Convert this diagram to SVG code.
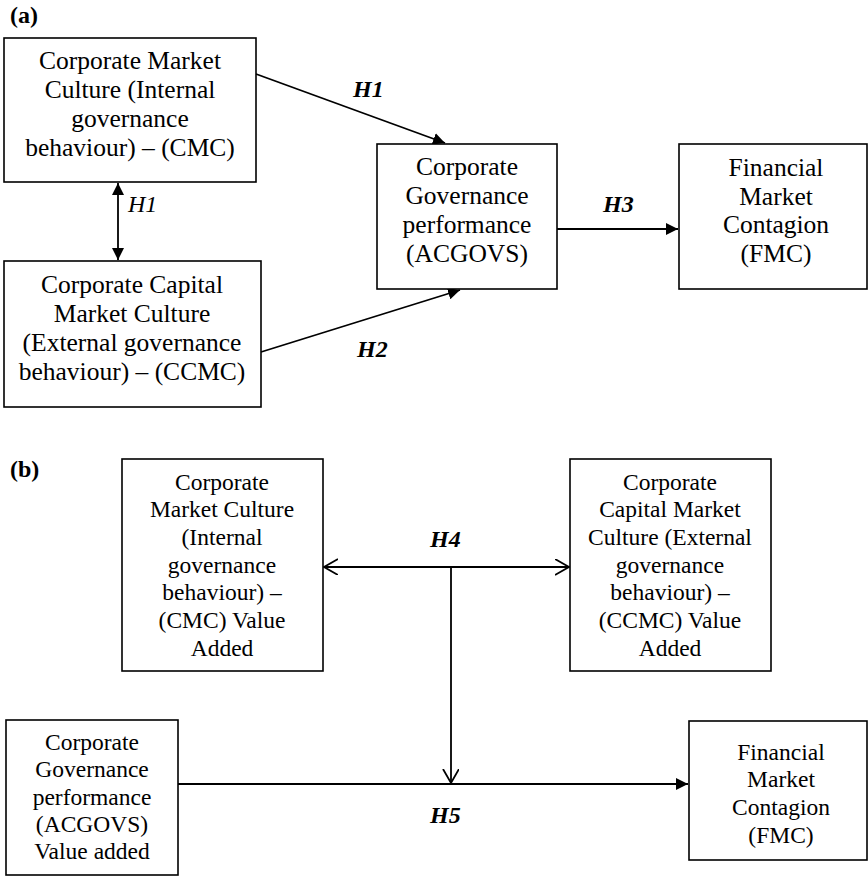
<svg xmlns="http://www.w3.org/2000/svg" width="868" height="877" viewBox="0 0 868 877">
  <style>
    .box { fill: #fff; stroke: #000; stroke-width: 1.6; }
    .t { font-family: "Liberation Serif", "Times New Roman", serif; fill: #000; text-anchor: middle; }
    .ta { font-size: 25.5px; }
    .tb { font-size: 23.5px; }
    .panel { font-family: "Liberation Serif", "Times New Roman", serif; font-weight: bold; font-size: 24px; fill: #000; }
    .hb { font-family: "Liberation Serif", "Times New Roman", serif; font-weight: bold; font-style: italic; font-size: 24px; fill: #000; }
    .hi { font-family: "Liberation Serif", "Times New Roman", serif; font-style: italic; font-size: 24px; fill: #000; }
    .line { fill: none; stroke: #000; stroke-width: 1.8; }
  </style>
  <defs>
    <marker id="solid" markerUnits="userSpaceOnUse" markerWidth="13" markerHeight="12" refX="12" refY="6" orient="auto-start-reverse">
      <path d="M0,0 L12,6 L0,12 z" fill="#000"/>
    </marker>
    <marker id="open" markerUnits="userSpaceOnUse" markerWidth="16" markerHeight="18" refX="14" refY="8" orient="auto-start-reverse">
      <path d="M0,0 L14,8 L0,16" fill="none" stroke="#000" stroke-width="1.8"/>
    </marker>
  </defs>

  <!-- panel labels -->
  <text class="panel" x="10" y="23">(a)</text>
  <text class="panel" x="10" y="477">(b)</text>

  <!-- connectors -->
  <g id="connectors">
    <line class="line" x1="256" y1="74" x2="445" y2="143" marker-end="url(#solid)"/>
    <line class="line" x1="118" y1="183" x2="118" y2="260" marker-start="url(#solid)" marker-end="url(#solid)"/>
    <line class="line" x1="261" y1="352" x2="460" y2="290" marker-end="url(#solid)"/>
    <line class="line" x1="557" y1="229" x2="678" y2="229" marker-end="url(#solid)"/>
    <line class="line" x1="324" y1="567" x2="569" y2="567" marker-start="url(#open)" marker-end="url(#open)"/>
    <line class="line" x1="451" y1="567" x2="451" y2="783" marker-end="url(#open)"/>
    <line class="line" x1="178" y1="784" x2="688" y2="784" marker-end="url(#solid)"/>
    <text class="hb" x="353" y="97">H1</text>
    <text class="hi" x="128" y="212">H1</text>
    <text class="hb" x="357" y="357">H2</text>
    <text class="hb" x="603" y="212">H3</text>
    <text class="hb" x="430" y="547">H4</text>
    <text class="hb" x="430" y="823">H5</text>
  </g>

  <!-- panel (a) nodes -->
  <g id="cmc">
    <rect class="box" x="4" y="38" width="252" height="144"/>
    <text class="t ta" x="130" y="69">Corporate Market</text>
    <text class="t ta" x="130" y="98">Culture (Internal</text>
    <text class="t ta" x="130" y="127">governance</text>
    <text class="t ta" x="130" y="156">behaviour) – (CMC)</text>
  </g>
  <g id="ccmc">
    <rect class="box" x="4" y="261" width="257" height="146"/>
    <text class="t ta" x="132" y="293">Corporate Capital</text>
    <text class="t ta" x="132" y="322">Market Culture</text>
    <text class="t ta" x="132" y="351">(External governance</text>
    <text class="t ta" x="132" y="380">behaviour) – (CCMC)</text>
  </g>
  <g id="acgovs">
    <rect class="box" x="377" y="144" width="180" height="145"/>
    <text class="t ta" x="467" y="175">Corporate</text>
    <text class="t ta" x="467" y="204">Governance</text>
    <text class="t ta" x="467" y="233">performance</text>
    <text class="t ta" x="467" y="262">(ACGOVS)</text>
  </g>
  <g id="fmc-a">
    <rect class="box" x="679" y="144" width="188" height="145"/>
    <text class="t ta" x="776" y="176">Financial</text>
    <text class="t ta" x="776" y="205">Market</text>
    <text class="t ta" x="776" y="233">Contagion</text>
    <text class="t ta" x="776" y="262">(FMC)</text>
  </g>

  <!-- panel (b) nodes -->
  <g id="cmc-va">
    <rect class="box" x="122" y="459" width="201" height="212"/>
    <text class="t tb" x="222" y="490">Corporate</text>
    <text class="t tb" x="222" y="517">Market Culture</text>
    <text class="t tb" x="222" y="545">(Internal</text>
    <text class="t tb" x="222" y="573">governance</text>
    <text class="t tb" x="222" y="600">behaviour) –</text>
    <text class="t tb" x="222" y="628">(CMC) Value</text>
    <text class="t tb" x="222" y="656">Added</text>
  </g>
  <g id="ccmc-va">
    <rect class="box" x="570" y="459" width="201" height="212"/>
    <text class="t tb" x="670" y="490">Corporate</text>
    <text class="t tb" x="670" y="517">Capital Market</text>
    <text class="t tb" x="670" y="545">Culture (External</text>
    <text class="t tb" x="670" y="573">governance</text>
    <text class="t tb" x="670" y="600">behaviour) –</text>
    <text class="t tb" x="670" y="628">(CCMC) Value</text>
    <text class="t tb" x="670" y="656">Added</text>
  </g>
  <g id="acgovs-va">
    <rect class="box" x="6" y="720" width="172" height="155"/>
    <text class="t tb" x="92" y="750">Corporate</text>
    <text class="t tb" x="92" y="777">Governance</text>
    <text class="t tb" x="92" y="805">performance</text>
    <text class="t tb" x="92" y="832">(ACGOVS)</text>
    <text class="t tb" x="92" y="859">Value added</text>
  </g>
  <g id="fmc-b">
    <rect class="box" x="689" y="721" width="178" height="139"/>
    <text class="t tb" x="781" y="760">Financial</text>
    <text class="t tb" x="781" y="787">Market</text>
    <text class="t tb" x="781" y="815">Contagion</text>
    <text class="t tb" x="781" y="843">(FMC)</text>
  </g>
</svg>
